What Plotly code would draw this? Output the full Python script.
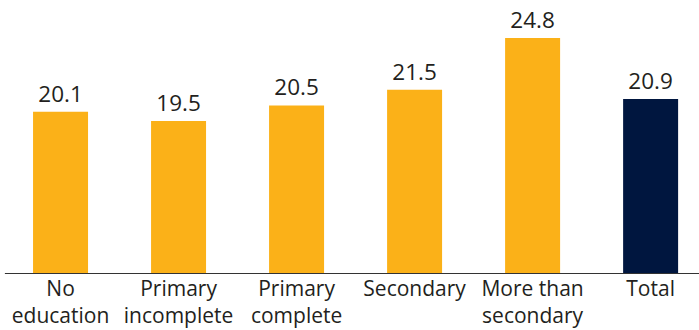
import plotly.graph_objects as go

categories = ["No<br>education", "Primary<br>incomplete", "Primary<br>complete",
              "Secondary", "More than<br>secondary", "Total"]
values = [20.1, 19.5, 20.5, 21.5, 24.8, 20.9]
value_labels = ["20.1", "19.5", "20.5", "21.5", "24.8", "20.9"]
colors = ["#FBB118", "#FBB118", "#FBB118", "#FBB118", "#FBB118", "#00163F"]

FONT = "Open Sans"
TEXT = "#231F20"

fig = go.Figure(go.Bar(
    x=categories, y=values, marker=dict(color=colors, line=dict(width=0)),
    width=0.466, text=value_labels, textposition="outside",
    textfont=dict(family=FONT, size=22.5, color=TEXT), cliponaxis=False,
    hoverinfo="skip",
))
fig.update_layout(
    width=699, height=330, margin=dict(l=0, r=0, t=0, b=56),
    paper_bgcolor="white", plot_bgcolor="white", showlegend=False,
    font=dict(family=FONT, color=TEXT),
)
fig.update_xaxes(range=[-0.513, 5.41], showgrid=False, showline=False, ticks="",
                 tickfont=dict(family=FONT, size=21, color=TEXT))
fig.update_yaxes(range=[9.75, 27.22], visible=False)
fig.add_shape(type="line", xref="paper", yref="y", x0=0.007, x1=1, y0=9.75, y1=9.75,
              line=dict(color="#333333", width=2))
fig.write_html("out.html")
